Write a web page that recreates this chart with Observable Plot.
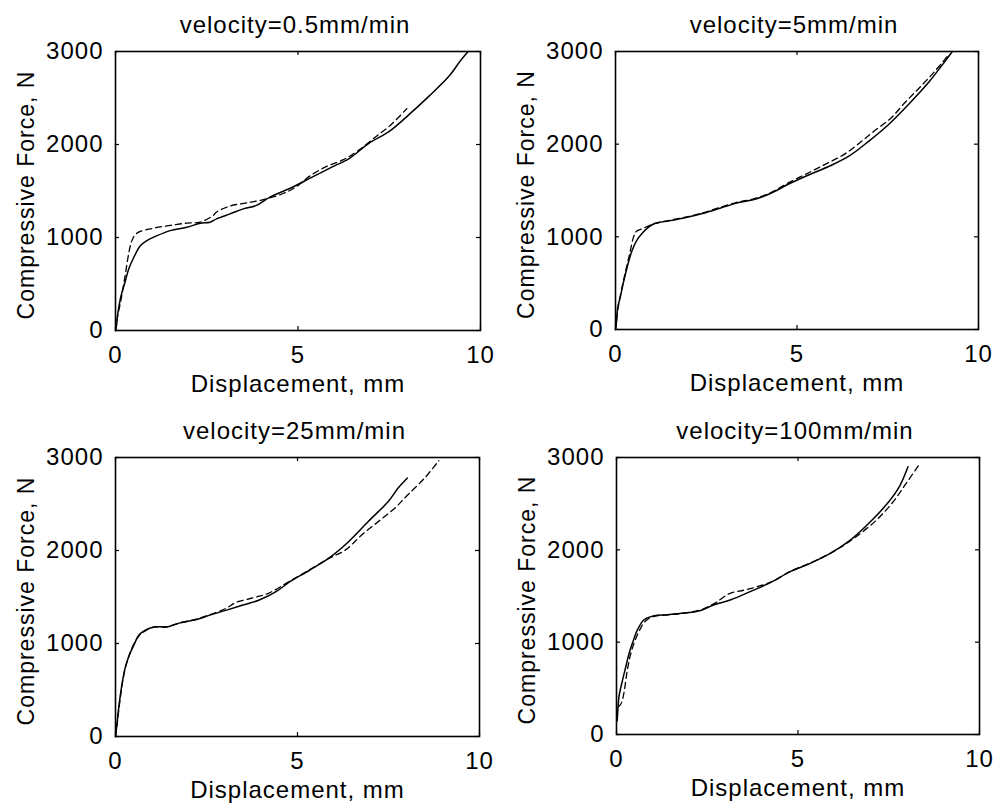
<!DOCTYPE html>
<html>
<head>
<meta charset="utf-8">
<script src="https://cdn.jsdelivr.net/npm/d3@7"></script>
<script src="https://cdn.jsdelivr.net/npm/@observablehq/plot@0.6"></script>
<style>
  html, body { margin: 0; padding: 0; background: #fff; }
  #wrap { position: relative; width: 995px; height: 809px; background: #fff; }
  #wrap > div { position: absolute; }
  svg text { letter-spacing: 1px; }
</style>
</head>
<body>
<div id="wrap">
  <div id="p1" style="left:0;top:0"></div>
  <div id="p2" style="left:497px;top:0"></div>
  <div id="p3" style="left:0;top:400px"></div>
  <div id="p4" style="left:497px;top:400px"></div>
</div>
<script>
// ---- data (displacement mm, compressive force N) ----
const titles = ["velocity=0.5mm/min", "velocity=5mm/min", "velocity=25mm/min", "velocity=100mm/min"];
const xLabel = "Displacement, mm";
const yLabel = "Compressive Force, N";
const xTicks = [0, 5, 10];
const yTicks = [0, 1000, 2000, 3000];

const solid05 = [[0,0],[0.03,60],[0.06,173],[0.14,353],[0.27,533],[0.36,659],[0.5,785],[0.68,911],[0.86,966],[1.14,1020],[1.5,1074],[1.95,1110],[2.32,1153],[2.59,1164],[2.77,1200],[3.14,1254],[3.5,1308],[3.86,1345],[4.23,1435],[4.77,1527],[5.32,1635],[5.86,1744],[6.41,1852],[6.95,2014],[7.5,2141],[8.04,2321],[8.59,2520],[9.14,2736],[9.45,2900],[9.66,3000]];
const dashed05 = [[0,0],[0.05,137],[0.15,330],[0.27,606],[0.36,823],[0.45,967],[0.59,1047],[1.05,1101],[1.5,1130],[1.95,1155],[2.32,1166],[2.68,1238],[2.77,1274],[3.14,1339],[3.59,1372],[4.05,1408],[4.59,1473],[4.95,1545],[5.32,1660],[5.77,1762],[6.23,1834],[6.68,1942],[7.14,2087],[7.5,2195],[7.98,2385]];

const solid5 = [[0,0],[0.03,91],[0.06,236],[0.14,364],[0.23,527],[0.37,745],[0.46,855],[0.59,964],[0.73,1036],[0.87,1091],[1.05,1138],[1.51,1175],[1.97,1211],[2.42,1255],[2.88,1309],[3.34,1364],[3.79,1400],[4.25,1465],[4.8,1575],[5.35,1673],[5.9,1764],[6.44,1873],[6.99,2036],[7.54,2218],[8.09,2436],[8.64,2673],[9.0,2855],[9.28,3000]];
const dashed5 = [[0,0],[0.05,180],[0.14,380],[0.25,580],[0.38,800],[0.5,1000],[0.58,1060],[0.75,1090],[1.05,1140],[1.51,1180],[1.97,1215],[2.42,1260],[2.88,1318],[3.34,1372],[3.79,1408],[4.25,1472],[4.8,1590],[5.39,1705],[5.84,1795],[6.3,1890],[6.76,2025],[7.12,2140],[7.57,2275],[7.99,2455],[8.4,2620],[8.77,2775],[9.2,2975]];

const solid25 = [[0,0],[0.03,97],[0.09,314],[0.18,566],[0.27,746],[0.36,854],[0.5,980],[0.68,1106],[1.05,1178],[1.41,1178],[1.77,1222],[2.23,1258],[2.59,1305],[3.05,1359],[3.5,1413],[3.95,1467],[4.41,1557],[4.77,1660],[5.32,1785],[5.86,1917],[6.41,2097],[6.95,2314],[7.5,2530],[7.77,2674],[8.02,2780]];
const dashed25 = [[0,0],[0.05,150],[0.12,380],[0.2,600],[0.3,780],[0.42,920],[0.6,1060],[0.75,1120],[1.05,1175],[1.41,1180],[1.77,1222],[2.23,1262],[2.59,1310],[3.05,1380],[3.3,1440],[3.77,1490],[4.2,1540],[4.77,1665],[5.32,1790],[5.86,1915],[6.32,2007],[6.77,2169],[7.23,2314],[7.68,2458],[8.04,2602],[8.5,2782],[8.88,2965]];

const solid100 = [[0.02,150],[0.03,220],[0.07,414],[0.17,595],[0.26,739],[0.35,883],[0.44,991],[0.58,1135],[0.76,1243],[1.04,1286],[1.4,1297],[1.86,1315],[2.32,1344],[2.69,1405],[3.15,1459],[3.7,1550],[4.25,1647],[4.8,1766],[5.35,1856],[5.9,1964],[6.45,2108],[7.0,2306],[7.5,2520],[7.8,2690],[8.03,2900]];
const dashed100 = [[0.05,300],[0.12,330],[0.19,420],[0.3,700],[0.41,900],[0.6,1100],[0.8,1230],[1.04,1280],[1.4,1295],[1.86,1315],[2.32,1350],[2.7,1420],[3.1,1524],[3.56,1568],[4.25,1650],[4.8,1770],[5.35,1860],[5.9,1965],[6.45,2100],[7.1,2300],[7.6,2510],[7.98,2720],[8.36,2935]];

const solids = [solid05, solid5, solid25, solid100];
const dasheds = [dashed05, dashed5, dashed25, dashed100];

// ---- layout per panel (svg size and margins) ----
const layouts = [
  {id: "p1", width: 497, height: 400, ml: 115, mr: 17, mt: 51, mb: 70},
  {id: "p2", width: 498, height: 400, ml: 118, mr: 17, mt: 51, mb: 71},
  {id: "p3", width: 497, height: 409, ml: 115, mr: 18, mt: 57, mb: 73},
  {id: "p4", width: 498, height: 409, ml: 119, mr: 16, mt: 57, mb: 75}
];

const font = "'Liberation Sans', Arial, Helvetica, sans-serif";
const fmt = d => String(d);

layouts.forEach((L, i) => {
  const fw = L.width - L.ml - L.mr;
  const fh = L.height - L.mt - L.mb;
  const tick = 4;
  const chart = Plot.plot({
    width: L.width,
    height: L.height,
    marginLeft: L.ml,
    marginRight: L.mr,
    marginTop: L.mt,
    marginBottom: L.mb,
    style: {fontFamily: font, fontSize: "24px", color: "black", background: "white", overflow: "visible"},
    x: {domain: [0, 10]},
    y: {domain: [0, 3000]},
    marks: [
      Plot.axisX(xTicks, {tickSize: 0, tickPadding: 15, tickFormat: fmt, label: null, fontSize: 24, fill: "black"}),
      Plot.axisY(yTicks, {tickSize: 0, tickPadding: 12, tickFormat: fmt, label: null, fontSize: 24, fill: "black"}),
      Plot.ruleX(xTicks, {insetTop: fh - tick, stroke: "black", strokeWidth: 1.2}),
      Plot.ruleX(xTicks, {insetBottom: fh - tick, stroke: "black", strokeWidth: 1.2}),
      Plot.ruleY(yTicks, {insetRight: fw - tick, stroke: "black", strokeWidth: 1.2}),
      Plot.ruleY(yTicks, {insetLeft: fw - tick, stroke: "black", strokeWidth: 1.2}),
      Plot.line(solids[i], {x: d => d[0], y: d => d[1], stroke: "black", strokeWidth: 1.5, curve: "catmull-rom"}),
      Plot.line(dasheds[i], {x: d => d[0], y: d => d[1], stroke: "black", strokeWidth: 1.3, strokeDasharray: "6,4", curve: "catmull-rom"}),
      Plot.frame({stroke: "black", strokeWidth: 1.6}),
      Plot.text([titles[i]], {text: d => d, frameAnchor: "top", lineAnchor: "bottom", textAnchor: "middle", dy: -19, dx: -3, fontSize: 24, fill: "black"}),
      Plot.text([xLabel], {text: d => d, frameAnchor: "bottom", lineAnchor: "bottom", textAnchor: "middle", dy: 61, fontSize: 24, fill: "black"}),
      Plot.text([yLabel], {text: d => d, frameAnchor: "left", rotate: -90, lineAnchor: "bottom", textAnchor: "middle", dx: -82, dy: 4, fontSize: 23, fill: "black"})
    ]
  });
  document.getElementById(L.id).appendChild(chart);
});
</script>
</body>
</html>
